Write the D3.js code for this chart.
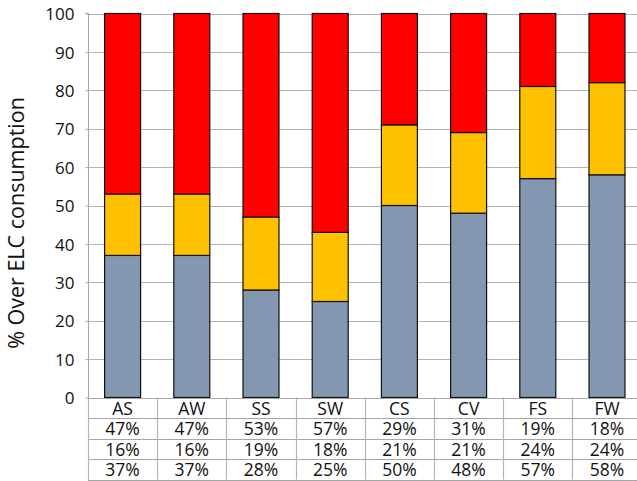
<!DOCTYPE html>
<html>
<head>
<meta charset="utf-8">
<script src="https://cdn.jsdelivr.net/npm/d3@7"></script>
<style>
  html, body { margin: 0; padding: 0; background: #fff; }
  svg { display: block; font-family: "Open Sans", sans-serif; }
</style>
</head>
<body>
<svg id="chart" width="637" height="481"></svg>
<script>
// Share of consumption above ELC per case, split in three bands
const categories = ["AS", "AW", "SS", "SW", "CS", "CV", "FS", "FW"];
const topShare = [47, 47, 53, 57, 29, 31, 19, 18];     // red band
const middleShare = [16, 16, 19, 18, 21, 21, 24, 24];  // gold band
const bottomShare = [37, 37, 28, 25, 50, 48, 57, 58];  // slate band
const yTicks = [0, 10, 20, 30, 40, 50, 60, 70, 80, 90, 100];

const seriesKeys = ["bottom", "middle", "top"];
const seriesColors = { bottom: "#8497B0", middle: "#FFC000", top: "#FF0000" };

const rows = categories.map((c, i) => ({
  cat: c, bottom: bottomShare[i], middle: middleShare[i], top: topShare[i]
}));

const svg = d3.select("#chart");
const plotLeft = 88, plotTop = 13.5, plotBottom = 397.5;
const band = 69.2;
const plotRight = plotLeft + band * categories.length;

const x = d3.scaleBand().domain(categories).range([plotLeft, plotRight]).paddingInner(0.48).paddingOuter(0.24);
const y = d3.scaleLinear().domain([0, 100]).range([plotBottom, plotTop]);

// Horizontal gridlines
svg.append("g")
  .selectAll("line")
  .data(yTicks.filter(t => t > 0))
  .join("line")
  .attr("x1", plotLeft).attr("x2", plotRight)
  .attr("y1", d => Math.round(y(d)) + 0.5).attr("y2", d => Math.round(y(d)) + 0.5)
  .attr("stroke", "#b3b3b3").attr("stroke-width", 1);

// Stacked bars
const stack = d3.stack().keys(seriesKeys)(rows);
svg.append("g")
  .selectAll("g")
  .data(stack)
  .join("g")
  .attr("fill", d => seriesColors[d.key])
  .selectAll("rect")
  .data(d => d)
  .join("rect")
  .attr("x", d => x(d.data.cat))
  .attr("width", x.bandwidth())
  .attr("y", d => y(d[1]))
  .attr("height", d => y(d[0]) - y(d[1]))
  .attr("stroke", "#111")
  .attr("stroke-width", 1.2);

// Y axis
const yAxis = d3.axisLeft(y).tickValues(yTicks).tickSize(3).tickPadding(11);
const ga = svg.append("g").attr("transform", `translate(${plotLeft + 0.5},0)`).call(yAxis);
ga.select(".domain").attr("stroke", "#a6a6a6").attr("d", `M-3,${plotTop}H0V${plotBottom + 82}`);
ga.selectAll(".tick line").attr("stroke", "#a6a6a6");
ga.selectAll(".tick text")
  .attr("font-family", "Open Sans, sans-serif")
  .attr("font-size", 17)
  .attr("fill", "#111")
  .attr("dy", "0.36em");

// Axis title
svg.append("text")
  .attr("transform", "translate(24,223) rotate(-90)")
  .attr("text-anchor", "middle")
  .attr("font-size", 21.5)
  .attr("fill", "#111")
  .text("% Over ELC consumption");

// Data table under the plot
const tableRows = [categories, topShare.map(v => v + "%"), middleShare.map(v => v + "%"), bottomShare.map(v => v + "%")];
const rowTop = [397.5, 418, 438.5, 459, 479.5];
const tg = svg.append("g");
rowTop.forEach(r => {
  tg.append("line")
    .attr("x1", plotLeft).attr("x2", plotRight)
    .attr("y1", Math.round(r) + 0.5).attr("y2", Math.round(r) + 0.5)
    .attr("stroke", "#a6a6a6").attr("stroke-width", 1.2);
});
categories.forEach((c, i) => {
  const xb = plotLeft + band * i;
  tg.append("line")
    .attr("x1", Math.round(xb) + 0.5).attr("x2", Math.round(xb) + 0.5)
    .attr("y1", rowTop[0]).attr("y2", rowTop[4])
    .attr("stroke", "#b3b3b3").attr("stroke-width", 1.2);
});
tableRows.forEach((vals, r) => {
  tg.append("g")
    .selectAll("text")
    .data(vals)
    .join("text")
    .attr("x", (d, i) => x(categories[i]) + x.bandwidth() / 2)
    .attr("y", rowTop[r] + 17)
    .attr("text-anchor", "middle")
    .attr("font-size", 17.5)
    .attr("fill", "#111")
    .text(d => d);
});
</script>
</body>
</html>
